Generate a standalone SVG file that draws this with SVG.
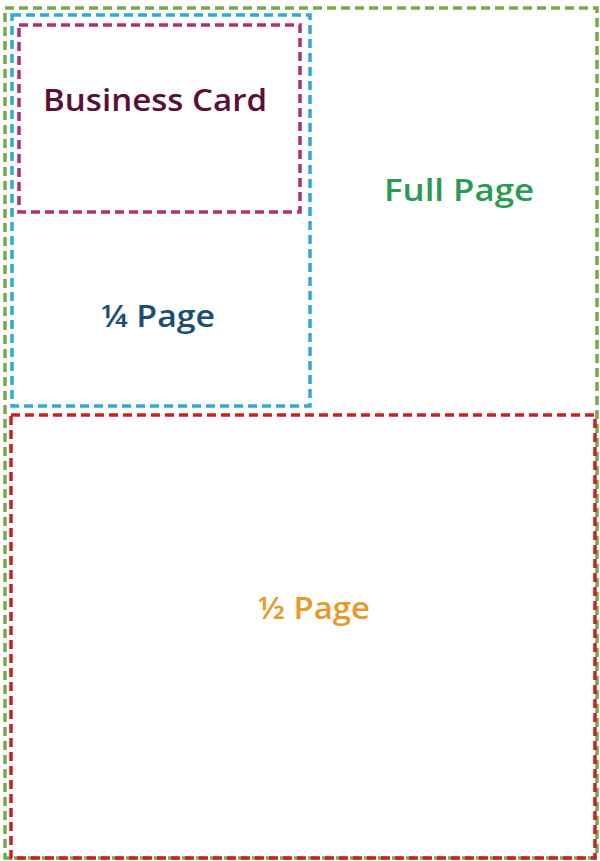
<svg xmlns="http://www.w3.org/2000/svg" width="600" height="861" viewBox="0 0 600 861">
<style>
.box{fill:none;stroke-width:3.5;stroke-dasharray:9 5}
.lbl{font-family:"Open Sans","Liberation Sans",sans-serif;font-weight:600;text-anchor:middle}
</style>
<rect width="600" height="861" fill="#ffffff"/>
<g id="full-page">
<rect class="box" x="5" y="8" width="592" height="850" stroke="#78a84a"/>
<text class="lbl" x="459" y="201" font-size="30" fill="#2a9a55" textLength="150" lengthAdjust="spacingAndGlyphs">Full Page</text>
</g>
<g id="quarter-page">
<rect class="box" x="12" y="15" width="298" height="391" stroke="#30a8d8"/>
<text class="lbl" x="158" y="327" font-size="30" fill="#1b4f72" textLength="114" lengthAdjust="spacingAndGlyphs">¼ Page</text>
</g>
<g id="business-card">
<rect class="box" x="19" y="25" width="281" height="187" stroke="#b0306e"/>
<text class="lbl" x="155" y="111" font-size="31" fill="#5a0e38" textLength="224" lengthAdjust="spacingAndGlyphs">Business Card</text>
</g>
<g id="half-page">
<rect class="box" x="11" y="415" width="584" height="443" stroke="#cc1f1f"/>
<text class="lbl" x="314" y="619" font-size="30" fill="#e59a2c" textLength="112" lengthAdjust="spacingAndGlyphs">½ Page</text>
</g>
<g id="connectors"/>
</svg>
